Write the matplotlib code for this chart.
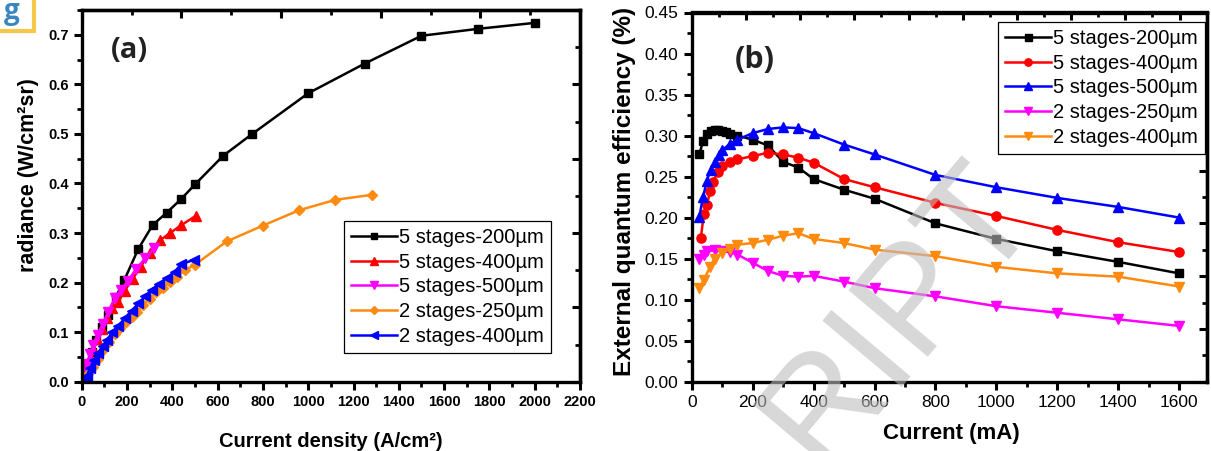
import matplotlib
matplotlib.use("Agg")
import matplotlib.pyplot as plt
from matplotlib.ticker import MultipleLocator, NullFormatter, FormatStrFormatter
from matplotlib.patches import Rectangle

plt.rcParams['font.family'] = ['Liberation Sans', 'DejaVu Sans']

# ---------------- (a) radiance vs current density ----------------
a_labels = ["5 stages-200\u00b5m", "5 stages-400\u00b5m", "5 stages-500\u00b5m",
            "2 stages-250\u00b5m", "2 stages-400\u00b5m"]

a_black_x = [10, 25, 45, 65, 90, 115, 150, 188, 250, 313, 375, 438, 500, 625, 750,
             1000, 1250, 1500, 1750, 2000]
a_black_y = [0.015, 0.035, 0.060, 0.085, 0.110, 0.135, 0.170, 0.205, 0.268, 0.316,
             0.341, 0.368, 0.398, 0.456, 0.499, 0.582, 0.642, 0.698, 0.712, 0.724]

a_red_x = [8, 20, 35, 50, 68, 88, 110, 135, 160, 190, 225, 260, 300, 345, 390, 440, 505]
a_red_y = [0.012, 0.030, 0.048, 0.066, 0.086, 0.106, 0.128, 0.148, 0.160, 0.184,
           0.207, 0.232, 0.260, 0.285, 0.300, 0.316, 0.335]

a_mag_x = [8, 22, 37, 52, 70, 92, 117, 145, 175, 205, 240, 280, 320]
a_mag_y = [0.018, 0.036, 0.055, 0.074, 0.095, 0.116, 0.141, 0.168, 0.186, 0.204,
           0.227, 0.249, 0.269]

a_org_x = [12, 30, 50, 70, 95, 120, 145, 170, 195, 220, 245, 270, 300, 330, 360, 390,
           420, 455, 500, 640, 800, 960, 1120, 1280]
a_org_y = [0.004, 0.015, 0.030, 0.046, 0.064, 0.080, 0.096, 0.108, 0.120, 0.130,
           0.140, 0.155, 0.167, 0.180, 0.190, 0.202, 0.212, 0.225, 0.236, 0.283,
           0.315, 0.346, 0.367, 0.377]

a_blue_x = [12, 22, 37, 55, 73, 92, 112, 135, 160, 190, 220, 250, 280, 310, 340, 375,
            410, 440, 495]
a_blue_y = [0.004, 0.012, 0.027, 0.044, 0.058, 0.072, 0.085, 0.100, 0.112, 0.128,
            0.143, 0.158, 0.172, 0.186, 0.197, 0.209, 0.222, 0.237, 0.246]

# ---------------- (b) EQE vs current ----------------
b_labels = ["5 stages-200\u00b5m", "5 stages-400\u00b5m", "5 stages-500\u00b5m",
            "2 stages-250\u00b5m", "2 stages-400\u00b5m"]

b_black_x = [25, 37, 50, 62, 75, 87, 100, 112, 125, 150, 200, 250, 300, 350, 400, 500,
             600, 800, 1000, 1200, 1400, 1600]
b_black_y = [0.277, 0.293, 0.302, 0.305, 0.307, 0.307, 0.306, 0.304, 0.302, 0.300,
             0.295, 0.288, 0.268, 0.261, 0.247, 0.234, 0.223, 0.193, 0.174, 0.159,
             0.146, 0.132]

b_red_x = [30, 40, 50, 60, 70, 85, 100, 125, 150, 200, 250, 300, 350, 400, 500, 600,
           800, 1000, 1200, 1400, 1600]
b_red_y = [0.175, 0.205, 0.215, 0.232, 0.243, 0.256, 0.263, 0.268, 0.271, 0.275,
           0.279, 0.277, 0.273, 0.267, 0.247, 0.237, 0.218, 0.202, 0.185, 0.170, 0.158]

b_blue_x = [25, 37, 50, 62, 75, 88, 100, 125, 150, 200, 250, 300, 350, 400, 500, 600,
            800, 1000, 1200, 1400, 1600]
b_blue_y = [0.201, 0.225, 0.245, 0.258, 0.268, 0.276, 0.282, 0.290, 0.295, 0.303,
            0.308, 0.310, 0.309, 0.303, 0.289, 0.277, 0.252, 0.237, 0.224, 0.213, 0.200]

b_mag_x = [25, 40, 50, 75, 100, 125, 150, 200, 250, 300, 350, 400, 500, 600, 800,
           1000, 1200, 1400, 1600]
b_mag_y = [0.149, 0.155, 0.159, 0.160, 0.159, 0.158, 0.155, 0.145, 0.135, 0.129,
           0.128, 0.129, 0.122, 0.114, 0.104, 0.092, 0.084, 0.076, 0.068]

b_org_x = [25, 40, 60, 75, 100, 125, 150, 200, 250, 300, 350, 400, 500, 600, 800,
           1000, 1200, 1400, 1600]
b_org_y = [0.114, 0.124, 0.140, 0.150, 0.157, 0.162, 0.167, 0.169, 0.173, 0.178,
           0.181, 0.174, 0.169, 0.161, 0.153, 0.140, 0.132, 0.128, 0.116]

BLACK, RED, BLUE, MAGENTA, ORANGE = "#000000", "#ff0000", "#0000ff", "#ff00ff", "#ff8a10"

W, H = 1211, 451
fig = plt.figure(figsize=(W / 100, H / 100), dpi=100)
fig.patch.set_facecolor("white")


def frame(ax, xmaj, xmin, ymaj, ymin, top_fn, right_fn, top_maj, top_min, r_maj, r_min):
    for s in ax.spines.values():
        s.set_linewidth(2.4)
    ax.xaxis.set_major_locator(MultipleLocator(xmaj))
    ax.xaxis.set_minor_locator(MultipleLocator(xmin))
    ax.yaxis.set_major_locator(MultipleLocator(ymaj))
    ax.yaxis.set_minor_locator(MultipleLocator(ymin))
    ax.tick_params(which="major", direction="out", length=6, width=2.2)
    ax.tick_params(which="minor", direction="out", length=3.5, width=2.0)
    sx = ax.secondary_xaxis("top", functions=top_fn)
    sx.xaxis.set_major_locator(MultipleLocator(top_maj))
    sx.xaxis.set_minor_locator(MultipleLocator(top_min))
    sx.xaxis.set_major_formatter(NullFormatter())
    sx.tick_params(which="major", direction="in", length=6, width=2.2)
    sx.tick_params(which="minor", direction="in", length=3.5, width=2.0)
    sx.spines["top"].set_linewidth(2.4)
    sy = ax.secondary_yaxis("right", functions=right_fn)
    sy.yaxis.set_major_locator(MultipleLocator(r_maj))
    sy.yaxis.set_minor_locator(MultipleLocator(r_min))
    sy.yaxis.set_major_formatter(NullFormatter())
    sy.tick_params(which="major", direction="in", length=6, width=2.2)
    sy.tick_params(which="minor", direction="in", length=3.5, width=2.0)
    sy.spines["right"].set_linewidth(2.4)


legend_style = dict(borderaxespad=0, fancybox=False, edgecolor="black", framealpha=1,
                    fontsize=14.5, handlelength=2.3, handletextpad=0.1,
                    labelspacing=0.28, borderpad=0.35, markerscale=0.8)

# ---------------- panel (a) ----------------
axA = fig.add_axes([81.7 / W, 1 - 381.7 / H, (580 - 81.7) / W, (381.7 - 10) / H])
lw, ms = 1.8, 5.8
axA.plot(a_black_x, a_black_y, "-s", color=BLACK, lw=lw, ms=ms, label=a_labels[0])
axA.plot(a_red_x, a_red_y, "-^", color=RED, lw=lw, ms=ms + 1, label=a_labels[1])
axA.plot(a_mag_x, a_mag_y, "-v", color=MAGENTA, lw=lw, ms=ms + 1, label=a_labels[2])
axA.plot(a_org_x, a_org_y, "-D", color=ORANGE, lw=lw, ms=ms - 0.5, label=a_labels[3])
axA.plot(a_blue_x, a_blue_y, "-<", color=BLUE, lw=lw, ms=ms + 1, label=a_labels[4])
axA.set_xlim(0, 2200)
axA.set_ylim(0, 0.75)
frame(axA, 200, 100, 0.1, 0.05,
      (lambda x: x * 2000 / 2200, lambda x: x * 2200 / 2000),
      (lambda y: y / 0.75, lambda y: y * 0.75), 400, 200, 0.2, 0.1)
axA.yaxis.set_major_formatter(FormatStrFormatter("%.1f"))
for t in axA.get_xticklabels() + axA.get_yticklabels():
    t.set_fontweight("bold")
    t.set_fontsize(10.5)
axA.set_xlabel("Current density (A/cm\u00b2)", fontsize=14.5, fontweight="bold")
axA.set_ylabel("radiance (W/cm\u00b2sr)", fontsize=15.5, fontweight="bold")
axA.xaxis.set_label_coords(0.5, -0.135)
axA.yaxis.set_label_coords(-0.085, 0.555)
axA.text(129 / W, 1 - 50 / H, "(a)", transform=fig.transFigure, fontsize=21,
         fontweight="bold", family=["Open Sans", "DejaVu Sans"], color="#222222",
         ha="center", va="center")
legA = axA.legend(loc="upper left", bbox_to_anchor=(344 / W, 1 - 221 / H),
                  bbox_transform=fig.transFigure, **legend_style)
legA.get_frame().set_linewidth(0.9)

# ---------------- panel (b) ----------------
axB = fig.add_axes([691.7 / W, 1 - 381.7 / H, (1206.7 - 691.7) / W, (381.7 - 12.5) / H])
axB.plot(b_black_x, b_black_y, "-s", color=BLACK, lw=lw, ms=ms + 0.5, label=b_labels[0])
axB.plot(b_red_x, b_red_y, "-o", color=RED, lw=lw, ms=ms + 0.8, label=b_labels[1])
axB.plot(b_blue_x, b_blue_y, "-^", color=BLUE, lw=lw, ms=ms + 1.2, label=b_labels[2])
axB.plot(b_mag_x, b_mag_y, "-v", color=MAGENTA, lw=lw, ms=ms + 1.2, label=b_labels[3])
axB.plot(b_org_x, b_org_y, "-v", color=ORANGE, lw=lw, ms=ms + 1.2, label=b_labels[4])
axB.set_xlim(0, 1690)
axB.set_ylim(0, 0.45)
frame(axB, 200, 100, 0.05, 0.025,
      (lambda x: x * 1900 / 1690, lambda x: x * 1690 / 1900),
      (lambda y: y * 0.7 / 0.45, lambda y: y * 0.45 / 0.7), 200, 100, 0.1, 0.05)
axB.yaxis.set_major_formatter(FormatStrFormatter("%.2f"))
for t in axB.get_xticklabels() + axB.get_yticklabels():
    t.set_fontsize(12.5)
axB.set_xlabel("Current (mA)", fontsize=16, fontweight="bold")
axB.set_ylabel("External quantum efficiency (%)", fontsize=17.5, fontweight="bold")
axB.xaxis.set_label_coords(0.505, -0.112)
axB.yaxis.set_label_coords(-0.108, 0.515)
axB.text(755 / W, 1 - 60 / H, "(b)", transform=fig.transFigure, fontsize=22,
         fontweight="bold", family=["Open Sans", "DejaVu Sans"], color="#222222",
         ha="center", va="center")
legB = axB.legend(loc="upper right", bbox_to_anchor=(1205 / W, 1 - 22 / H),
                  bbox_transform=fig.transFigure, **legend_style)
legB.get_frame().set_linewidth(0.9)

# journal badge in the corner
fig.patches.append(Rectangle((-10 / W, 1 - 31 / H), 44 / W, 45 / H,
                             transform=fig.transFigure, facecolor="white",
                             edgecolor="#f5c84a", linewidth=3, zorder=5))
fig.text(12 / W, 1 - 12 / H, "g", fontsize=20, fontweight="bold", color="#3a86c0",
         family=["Open Sans", "DejaVu Sans"], ha="center", va="center", zorder=6)

# diagonal watermark lettering
fig.text(900 / W, 1 - 315 / H, "RIPT", fontsize=108, rotation=50, color="#bdbdbd",
         alpha=0.6, ha="center", va="center", zorder=20)

fig.savefig("out.png", dpi=100, facecolor="white")
